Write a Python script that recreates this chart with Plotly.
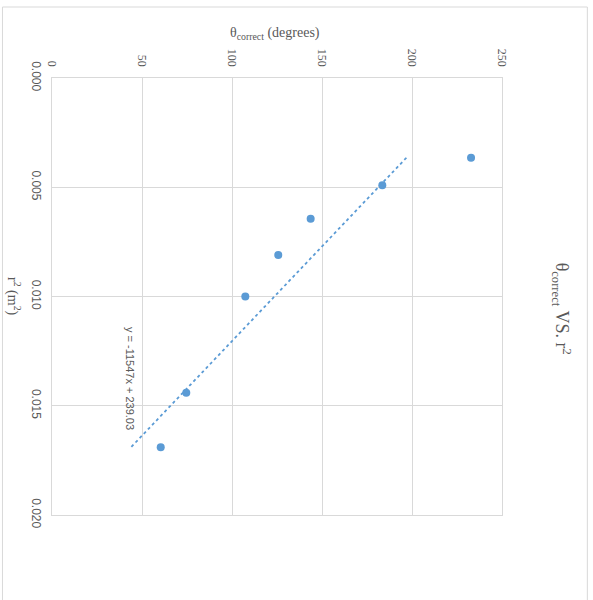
import plotly.graph_objects as go

# Data
r2_values = [0.00365, 0.00491, 0.00644, 0.0081, 0.0100, 0.0144, 0.0169]
theta_values = [232.8, 183.5, 143.7, 125.7, 107.4, 74.6, 60.4]
trend_slope = -11547
trend_intercept = 239.03
theta_ticks = [0, 50, 100, 150, 200, 250]
r2_ticks = [0.000, 0.005, 0.010, 0.015, 0.020]

W, H = 593, 600
L, R, T, B = 52, 501.7, 78, 515

def px(x):
    return (x - L) / (R - L)

def py(y):
    return (B - y) / (B - T)

tr_x = [min(r2_values), max(r2_values)]
tr_y = [trend_slope * v + trend_intercept for v in tr_x]

blue = "#5b9bd5"
grey = "#595959"
gridc = "#d9d9d9"

fig = go.Figure()
fig.add_trace(go.Scatter(x=tr_y, y=tr_x, mode="lines",
                         line=dict(color=blue, width=1.8, dash="dot"),
                         hoverinfo="skip", showlegend=False))
fig.add_trace(go.Scatter(x=theta_values, y=r2_values, mode="markers",
                         marker=dict(color=blue, size=8), showlegend=False))

fig.update_layout(
    width=W, height=H,
    margin=dict(l=L, r=W - R, t=T, b=H - B, autoexpand=False),
    paper_bgcolor="white", plot_bgcolor="white",
    showlegend=False,
    xaxis=dict(range=[0, 250], tickvals=theta_ticks, side="top",
               tickangle=90, showgrid=True, gridcolor=gridc, gridwidth=1,
               zeroline=False, showline=True, linecolor=gridc, linewidth=1,
               mirror=True, ticks="", automargin=False,
               tickfont=dict(family="Liberation Serif", size=12, color=grey),
               ticklabelstandoff=6),
    yaxis=dict(range=[0.020, 0.0], tickvals=r2_ticks, tickformat=".3f",
               tickangle=90, showgrid=True, gridcolor=gridc, gridwidth=1,
               zeroline=False, showline=True, linecolor=gridc, linewidth=1,
               mirror=True, ticks="", automargin=False,
               tickfont=dict(family="Liberation Sans", size=12, color=grey),
               ticklabelstandoff=5),
    shapes=[dict(type="rect", xref="paper", yref="paper",
                 x0=px(2.5), x1=px(587), y0=py(620), y1=py(7),
                 line=dict(color=gridc, width=1), layer="below")],
    annotations=[
        dict(text="θ<sub>correct</sub> VS. r<sup>2</sup>", xref="paper", yref="paper",
             x=px(562), y=py(309), showarrow=False, textangle=90,
             font=dict(family="Liberation Serif", size=18, color=grey),
             xanchor="center", yanchor="middle"),
        dict(text="θ<sub>correct</sub> (degrees)", xref="paper", yref="paper",
             x=px(275), y=py(33), showarrow=False,
             font=dict(family="Liberation Serif", size=14, color=grey),
             xanchor="center", yanchor="middle"),
        dict(text="r<sup>2</sup> (m<sup>2</sup>)", xref="paper", yref="paper",
             x=px(14), y=py(297), showarrow=False, textangle=90,
             font=dict(family="Liberation Serif", size=14, color=grey),
             xanchor="center", yanchor="middle"),
        dict(text="y = -11547x + 239.03", xref="paper", yref="paper",
             x=px(130), y=py(378), showarrow=False, textangle=90,
             font=dict(family="Liberation Sans", size=11, color=grey),
             xanchor="center", yanchor="middle"),
    ],
)

fig.write_html("out.html", config={"displayModeBar": False},
               post_script="document.body.style.margin='0px';")
